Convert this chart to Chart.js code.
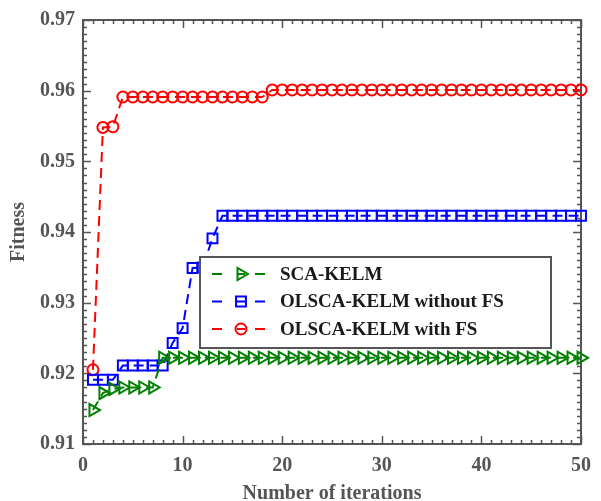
<!DOCTYPE html>
<html>
<head>
<meta charset="utf-8">
<script src="https://cdn.jsdelivr.net/npm/chart.js@4/dist/chart.umd.min.js"></script>
<style>
  html, body { margin: 0; padding: 0; background: #fff; }
  #wrap { width: 601px; height: 501px; }
</style>
</head>
<body>
<div id="wrap"><canvas id="myChart" width="601" height="501"></canvas></div>
<script>
let iterations = [1, 2, 3, 4, 5, 6, 7, 8, 9, 10, 11, 12, 13, 14, 15, 16, 17, 18, 19, 20,
  21, 22, 23, 24, 25, 26, 27, 28, 29, 30, 31, 32, 33, 34, 35, 36, 37, 38, 39, 40,
  41, 42, 43, 44, 45, 46, 47, 48, 49, 50];

let scaKelm = [0.9148, 0.9172, 0.9178, 0.9180, 0.9180, 0.9180, 0.9180, 0.9222, 0.9222, 0.9222,
  0.9222, 0.9222, 0.9222, 0.9222, 0.9222, 0.9222, 0.9222, 0.9222, 0.9222, 0.9222,
  0.9222, 0.9222, 0.9222, 0.9222, 0.9222, 0.9222, 0.9222, 0.9222, 0.9222, 0.9222,
  0.9222, 0.9222, 0.9222, 0.9222, 0.9222, 0.9222, 0.9222, 0.9222, 0.9222, 0.9222,
  0.9222, 0.9222, 0.9222, 0.9222, 0.9222, 0.9222, 0.9222, 0.9222, 0.9222, 0.9222];

let olscaNoFs = [0.9191, 0.9191, 0.9191, 0.9211, 0.9211, 0.9211, 0.9211, 0.9211, 0.9243, 0.9264,
  0.9349, 0.9350, 0.9391, 0.9423, 0.9423, 0.9423, 0.9423, 0.9423, 0.9423, 0.9423,
  0.9423, 0.9423, 0.9423, 0.9423, 0.9423, 0.9423, 0.9423, 0.9423, 0.9423, 0.9423,
  0.9423, 0.9423, 0.9423, 0.9423, 0.9423, 0.9423, 0.9423, 0.9423, 0.9423, 0.9423,
  0.9423, 0.9423, 0.9423, 0.9423, 0.9423, 0.9423, 0.9423, 0.9423, 0.9423, 0.9423];

let olscaFs = [0.9205, 0.9548, 0.9549, 0.9591, 0.9591, 0.9591, 0.9591, 0.9591, 0.9591, 0.9591,
  0.9591, 0.9591, 0.9591, 0.9591, 0.9591, 0.9591, 0.9591, 0.9591, 0.9601, 0.9601,
  0.9601, 0.9601, 0.9601, 0.9601, 0.9601, 0.9601, 0.9601, 0.9601, 0.9601, 0.9601,
  0.9601, 0.9601, 0.9601, 0.9601, 0.9601, 0.9601, 0.9601, 0.9601, 0.9601, 0.9601,
  0.9601, 0.9601, 0.9601, 0.9601, 0.9601, 0.9601, 0.9601, 0.9601, 0.9601, 0.9601];

let seriesNames = ["SCA-KELM", "OLSCA-KELM without FS", "OLSCA-KELM with FS"];

const axisGray = "#555555";
const fontFamily = "'Liberation Serif', 'Times New Roman', serif";

function makeSeries(values) {
  let pts = [];
  for (let i = 0; i < iterations.length; i++) {
    pts.push({ x: iterations[i], y: values[i] });
  }
  return pts;
}

function lineDataset(label, values, color, style, radius, rotation) {
  return {
    label: label,
    data: makeSeries(values),
    borderColor: color,
    backgroundColor: "rgba(0,0,0,0)",
    borderWidth: 2,
    borderDash: [10, 6],
    pointStyle: style,
    pointRadius: radius,
    pointRotation: rotation,
    pointBorderWidth: 2,
    pointBorderColor: color,
    pointBackgroundColor: "rgba(0,0,0,0)",
    tension: 0,
    clip: false,
  };
}

// inward ticks on all four sides + the box
const frameTicks = {
  id: "frameTicks",
  beforeDatasetsDraw(chart) {
    const ctx = chart.ctx;
    const a = chart.chartArea;
    const xs = chart.scales.x;
    const ys = chart.scales.y;
    ctx.save();
    ctx.strokeStyle = axisGray;
    ctx.lineWidth = 1.5;
    ctx.beginPath();
    for (let v = 0; v <= 50; v++) {
      let px = Math.round(xs.getPixelForValue(v)) + 0.5;
      let len = v % 10 === 0 ? 8 : 4;
      ctx.moveTo(px, a.bottom);
      ctx.lineTo(px, a.bottom - len);
      ctx.moveTo(px, a.top);
      ctx.lineTo(px, a.top + len);
    }
    for (let k = 0; k <= 60; k++) {
      let v = 0.91 + k * 0.001;
      let py = Math.round(ys.getPixelForValue(v)) + 0.5;
      let len = k % 10 === 0 ? 8 : 4;
      ctx.moveTo(a.left, py);
      ctx.lineTo(a.left + len, py);
      ctx.moveTo(a.right, py);
      ctx.lineTo(a.right - len, py);
    }
    ctx.stroke();
    ctx.lineWidth = 2;
    ctx.strokeRect(a.left, a.top, a.right - a.left, a.bottom - a.top);
    ctx.restore();
  },
};

// boxed legend inside the plot
const boxLegend = {
  id: "boxLegend",
  afterDatasetsDraw(chart) {
    const ctx = chart.ctx;
    const a = chart.chartArea;
    const left = a.left + 117;
    const top = a.top + 237;
    const w = 351;
    const h = 91;
    ctx.save();
    ctx.fillStyle = "#ffffff";
    ctx.fillRect(left, top, w, h);
    ctx.strokeStyle = axisGray;
    ctx.lineWidth = 2;
    ctx.strokeRect(left, top, w, h);
    ctx.font = "bold 19px " + fontFamily;
    ctx.textBaseline = "middle";
    chart.data.datasets.forEach(function (ds, i) {
      let y = top + 17 + i * 27.5;
      ctx.setLineDash([]);
      ctx.strokeStyle = ds.borderColor;
      ctx.lineWidth = 2;
      ctx.beginPath();
      ctx.moveTo(left + 12, y);
      ctx.lineTo(left + 22, y);
      ctx.moveTo(left + 55, y);
      ctx.lineTo(left + 65, y);
      ctx.moveTo(left + 37, y);
      ctx.lineTo(left + 45, y);
      ctx.stroke();
      ctx.fillStyle = "rgba(0,0,0,0)";
      Chart.helpers.drawPoint(ctx, {
        pointStyle: ds.pointStyle,
        radius: ds.pointRadius,
        rotation: ds.pointRotation,
        borderWidth: 2,
      }, left + 41, y);
      ctx.fillStyle = "#1a1a1a";
      ctx.fillText(ds.label, left + 80, y + 1);
    });
    ctx.restore();
  },
};

function showChart() {
  const ctx = document.getElementById("myChart").getContext("2d");
  new Chart(ctx, {
    type: "line",
    data: {
      datasets: [
        lineDataset(seriesNames[0], scaKelm, "#008000", "triangle", 7, 90),
        lineDataset(seriesNames[1], olscaNoFs, "#0000ff", "rect", 7, 0),
        lineDataset(seriesNames[2], olscaFs, "#ff0000", "circle", 5.5, 0),
      ],
    },
    options: {
      responsive: false,
      animation: false,
      layout: { padding: { top: 20, right: 10, left: 0, bottom: 0 } },
      plugins: { legend: { display: false }, tooltip: { enabled: false } },
      scales: {
        x: {
          type: "linear",
          min: 0,
          max: 50,
          grid: { display: false, drawTicks: false },
          border: { display: false },
          ticks: {
            stepSize: 10,
            padding: 10,
            color: axisGray,
            font: { family: fontFamily, size: 20, weight: "bold" },
          },
          title: {
            display: true,
            text: "Number of iterations",
            color: axisGray,
            font: { family: fontFamily, size: 20, weight: "bold" },
            padding: { top: 0, bottom: -5 },
          },
          afterFit(scale) { scale.height = 57; },
        },
        y: {
          min: 0.91,
          max: 0.97,
          grid: { display: false, drawTicks: false },
          border: { display: false },
          ticks: {
            stepSize: 0.01,
            padding: 8,
            color: axisGray,
            font: { family: fontFamily, size: 20, weight: "bold" },
            callback: function (v) { return v.toFixed(2); },
          },
          title: {
            display: true,
            text: "Fitness",
            color: axisGray,
            font: { family: fontFamily, size: 20, weight: "bold" },
            padding: { top: 7, bottom: 0 },
          },
          afterFit(scale) { scale.width = 83; },
        },
      },
    },
    plugins: [frameTicks, boxLegend],
  });
}

showChart();
</script>
</body>
</html>
